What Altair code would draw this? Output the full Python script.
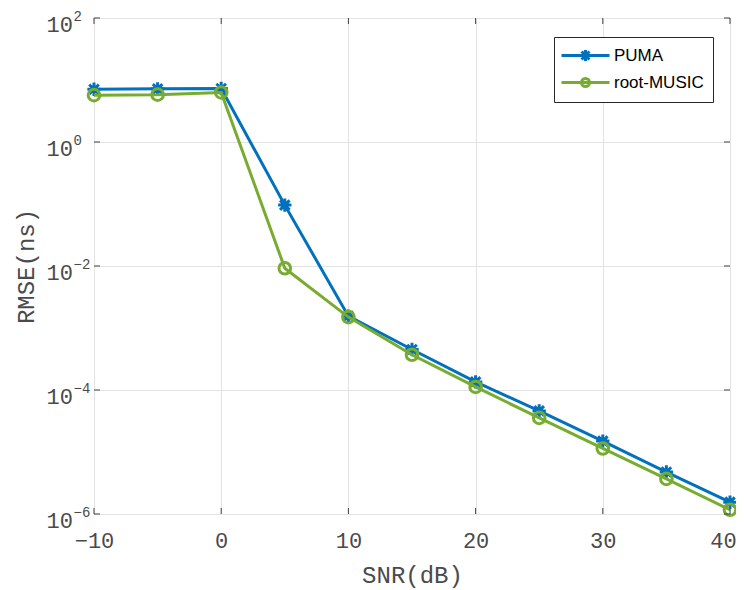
import altair as alt
import pandas as pd

# ---- data ----
snr = [-10, -5, 0, 5, 10, 15, 20, 25, 30, 35, 40]
puma = [7.1, 7.2, 7.3, 0.096, 1.55e-3, 4.5e-4, 1.35e-4, 4.6e-5, 1.5e-5, 4.75e-6, 1.55e-6]
music = [5.7, 5.8, 6.3, 9.2e-3, 1.5e-3, 3.7e-4, 1.12e-4, 3.55e-5, 1.14e-5, 3.68e-6, 1.17e-6]
methods = ["PUMA", "root-MUSIC"]
colors = ["#0072BD", "#77AC30"]
x_ticks = [-10, 0, 10, 20, 30, 40]
y_ticks = [1e-6, 1e-4, 1e-2, 1, 1e2]
y_exps = ["\u22126", "\u22124", "\u22122", "0", "2"]

W, H = 636, 496
AX = "#404040"
TXT = "#4a4a4a"
MONO = "Liberation Mono"

df = pd.DataFrame({
    "snr": snr * 2,
    "rmse": puma + music,
    "method": [methods[0]] * len(snr) + [methods[1]] * len(snr),
})
xt = pd.DataFrame({"snr": x_ticks})
yt = pd.DataFrame({"rmse": y_ticks, "exp": y_exps})

xs = alt.Scale(domain=[-10, 40], nice=False)
ys = alt.Scale(type="log", domain=[1e-6, 1e2], nice=False)

x_axis = alt.Axis(
    values=x_ticks, title="SNR(dB)", grid=True, ticks=False, domain=False,
    labelFont=MONO, labelFontSize=22, labelColor=TXT, labelPadding=16,
    labelOffset=alt.condition("datum.value == 40", alt.value(-7), alt.value(0)),
    titleFont=MONO, titleFontSize=24, titleFontWeight="normal", titleColor=TXT,
    titlePadding=12, gridColor="#e3e3e3", labelFlush=False)
y_axis = alt.Axis(
    values=y_ticks, title="RMSE(ns)", grid=True, ticks=False, domain=False,
    labels=False, titleFont=MONO, titleFontSize=24, titleFontWeight="normal",
    titleColor=TXT, titlePadding=56, gridColor="#e3e3e3")
X = alt.X("snr:Q", scale=xs, axis=x_axis)
Y = alt.Y("rmse:Q", scale=ys, axis=y_axis)

star = "M-1.15,0H1.15M0,-1.15V1.15M-0.82,-0.82L0.82,0.82M-0.82,0.82L0.82,-0.82"
leg_star = ("M-1.375,0H4.625M0.925,0H2.325M1.625,-0.7V0.7"
            "M1.13,-0.5L2.12,0.5M1.13,0.5L2.12,-0.5")
leg_circ = "M-1.375,0H4.625M2.125,0A0.5,0.5 0 1,1 1.125,0A0.5,0.5 0 1,1 2.125,0"

layers = []
for m, c, shp in [(methods[0], colors[0], star), (methods[1], colors[1], "circle")]:
    b = alt.Chart(df).transform_filter(alt.datum.method == m)
    layers.append(b.mark_line(strokeWidth=3, color=c).encode(x=X, y=Y))
    layers.append(b.mark_point(shape=shp, filled=False, size=135, strokeWidth=3,
                               color=c, opacity=1).encode(x=X, y=Y))

leg = dict(title=None, orient="none", legendX=460, legendY=19,
           fillColor="white", strokeColor="#262626", padding=9,
           labelFont="Liberation Sans", labelFontSize=17, labelColor="black",
           symbolSize=256, symbolStrokeWidth=3, labelOffset=32, rowPadding=4,
           cornerRadius=0, symbolOpacity=1)
# legend helper (no marks drawn, only the legend)
legend_layer = alt.Chart(df).transform_filter("false").mark_point(
    filled=False, size=256, strokeWidth=3, opacity=1).encode(
    x=X, y=Y,
    color=alt.Color("method:N", scale=alt.Scale(domain=methods, range=colors),
                    legend=alt.Legend(**leg)),
    shape=alt.Shape("method:N", scale=alt.Scale(domain=methods, range=[leg_star, leg_circ]),
                    legend=alt.Legend(**leg)),
)
layers.append(legend_layer)

# inward ticks on all four sides
tk = dict(color=AX, strokeWidth=1)
layers.append(alt.Chart(xt).mark_rule(**tk).encode(x=X, y=alt.value(H), y2=alt.value(H - 6)))
layers.append(alt.Chart(xt).mark_rule(**tk).encode(x=X, y=alt.value(0), y2=alt.value(6)))
layers.append(alt.Chart(yt).mark_rule(**tk).encode(y=Y, x=alt.value(0), x2=alt.value(6)))
layers.append(alt.Chart(yt).mark_rule(**tk).encode(y=Y, x=alt.value(W), x2=alt.value(W - 6)))

# y tick labels as 10 with superscript exponent
layers.append(alt.Chart(yt).mark_text(font=MONO, fontSize=22, color=TXT, align="right",
                                      baseline="middle", dy=6.5).encode(
    y=Y, x=alt.value(-21), text=alt.value("10")))
layers.append(alt.Chart(yt).mark_text(font=MONO, fontSize=14, color=TXT, align="left",
                                      baseline="middle", dy=-1).encode(
    y=Y, x=alt.value(-20.5), text="exp:N"))

chart = alt.layer(*layers).properties(
    width=W, height=H,
    autosize=alt.AutoSizeParams(type="none"),
    padding={"left": 86, "top": 10, "right": 6, "bottom": 74},
).configure_view(stroke=AX, strokeWidth=1).configure(background="white")

chart.save("out.html", embed_options={"renderer": "svg", "actions": False})
